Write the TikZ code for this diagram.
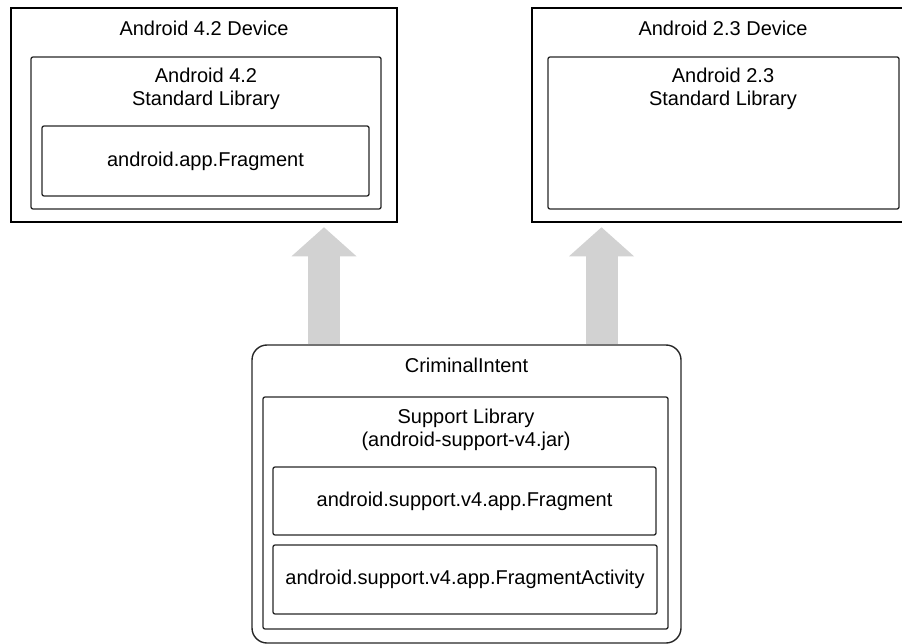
\documentclass[tikz,border=0pt]{standalone}
\usepackage{fontspec}
\setmainfont{Liberation Sans}
\usetikzlibrary{arrows.meta}

\tikzset{
  devicebox/.style={draw, line width=2.6pt, inner sep=0pt, minimum height=214pt},
  libbox/.style={draw, black!85, line width=1.3pt, rounded corners=2pt, inner sep=0pt},
  classbox/.style={draw, black!85, line width=1.3pt, rounded corners=2pt, inner sep=0pt, text=black},
  appbox/.style={draw, black!85, line width=1.4pt, rounded corners=15pt, inner sep=0pt},
  boxtitle/.style={align=center, inner sep=0pt},
  liftarrow/.style={draw=gray!35, line width=32pt, -{Triangle[width=65pt,length=29pt,line width=0pt]}, shorten >=4pt}
}

\begin{document}
\begin{tikzpicture}[x=1pt,y=-1pt,font=\fontsize{20}{23}\selectfont]
\clip (0,0) rectangle (902,644);

\node[devicebox, minimum width=386pt] (dev42) at (204,115) {};
\node[boxtitle] (dev42title) at (204,28) {Android 4.2 Device};

\node[libbox, minimum width=350pt, minimum height=152pt] (lib42) at (206,133) {};
\node[boxtitle] (lib42title) at (206,89) {Android 4.2\\Standard Library};

\node[classbox, minimum width=327pt, minimum height=70pt] (frag42) at (205.5,161) {android.app.Fragment};

\node[devicebox, minimum width=382pt] (dev23) at (723,115) {};
\node[boxtitle] (dev23title) at (723,28) {Android 2.3 Device};

\node[libbox, minimum width=351pt, minimum height=152pt] (lib23) at (723.5,133) {};
\node[boxtitle] (lib23title) at (723,89) {Android 2.3\\Standard Library};

\node[appbox, minimum width=429pt, minimum height=298pt] (ci) at (466.5,494) {};
\node[boxtitle] (cititle) at (466.5,365) {CriminalIntent};

\node[libbox, minimum width=405pt, minimum height=232pt] (suplib) at (465.5,513) {};
\node[boxtitle] (supliltitle) at (466,429.5) {Support Library\\(android-support-v4.jar)};

\node[classbox, minimum width=383pt, minimum height=68pt] (supfrag) at (464.5,501) {android.support.v4.app.Fragment};

\node[classbox, minimum width=384pt, minimum height=69pt] (supact) at (465,579.5) {android.support.v4.app.FragmentActivity};

\draw[liftarrow] (324,0 |- ci.north) -- (324,0 |- dev42.south);
\draw[liftarrow] (601.5,0 |- ci.north) -- (601.5,0 |- dev23.south);
\end{tikzpicture}
\end{document}
